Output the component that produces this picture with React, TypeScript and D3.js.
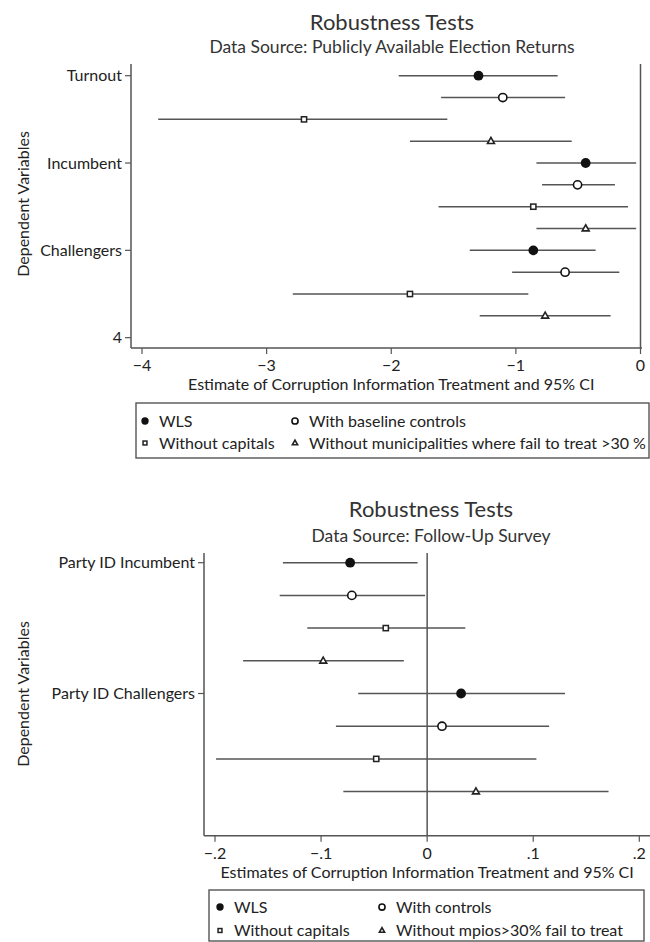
import React from 'react';
import * as d3 from 'd3';

// ---- data (estimate, CI low, CI high) ----
const topCategories = ['Turnout', 'Incumbent', 'Challengers'];
const topSeries = ['WLS', 'With baseline controls', 'Without capitals', 'Without municipalities where fail to treat >30 %'];
const topWLS = [[-1.30, -1.94, -0.665], [-0.44, -0.835, -0.035], [-0.86, -1.37, -0.36]];
const topBaseline = [[-1.105, -1.60, -0.605], [-0.505, -0.79, -0.205], [-0.605, -1.03, -0.17]];
const topCapitals = [[-2.70, -3.87, -1.55], [-0.86, -1.62, -0.10], [-1.85, -2.79, -0.90]];
const topNoFail = [[-1.20, -1.85, -0.552], [-0.44, -0.835, -0.035], [-0.765, -1.29, -0.24]];
const topXTicks = [-4, -3, -2, -1, 0];
const topExtraTick = '4';

const botCategories = ['Party ID Incumbent', 'Party ID Challengers'];
const botSeries = ['WLS', 'With controls', 'Without capitals', 'Without mpios>30% fail to treat'];
const botWLS = [[-0.0726, -0.136, -0.009], [0.032, -0.065, 0.130]];
const botControls = [[-0.071, -0.139, -0.002], [0.014, -0.086, 0.115]];
const botCapitals = [[-0.039, -0.113, 0.036], [-0.048, -0.199, 0.103]];
const botNoFail = [[-0.098, -0.1735, -0.022], [0.046, -0.079, 0.171]];
const botXTicks = [-0.2, -0.1, 0, 0.1, 0.2];

const FONT = 'Lato, "Noto Sans", sans-serif';
const TXT = '#222';
const LINE = '#555';
const AXIS = '#555';

function Marker({ kind, x, y, small = false }: { kind: number; x: number; y: number; small?: boolean }) {
  const k = small ? 0.75 : 1;
  if (kind === 0) return <circle cx={x} cy={y} r={4.9 * k} fill="#111" />;
  if (kind === 1) return <circle cx={x} cy={y} r={4.1 * k} fill="#fff" stroke="#111" strokeWidth={1.6} />;
  if (kind === 2) {
    const s = 5.2 * k;
    return <rect x={x - s / 2} y={y - s / 2} width={s} height={s} fill="#fff" stroke="#222" strokeWidth={1.5} />;
  }
  const h = 5.8 * k;
  const pts = [[x, y - h * 0.65], [x + h * 0.6, y + h * 0.4], [x - h * 0.6, y + h * 0.4]];
  return <polygon points={pts.map(p => p.join(',')).join(' ')} fill="#fff" stroke="#222" strokeWidth={1.6} />;
}

function fmtBot(v: number) {
  if (v === 0) return '0';
  const s = d3.format('.1f')(Math.abs(v)).replace(/^0/, '');
  return (v < 0 ? '\u2212' : '') + s;
}

function Panel(props: {
  title: string; subtitle: string; titleX: number; titleY: number; subY: number;
  categories: string[]; series: number[][][]; extraTick?: string;
  xDomain: [number, number]; xRange: [number, number]; xTicks: number[]; fmt: (v: number) => string;
  axisLeft: number; axisRight: number; plotTop: number; plotBottom: number;
  rowY0: number; rowStep: number; xTitle: string; yTitleY: number;
  legendNames: string[]; legendBox: [number, number, number, number]; legendRows: [number, number];
  legendCols: [number, number];
}) {
  const x = d3.scaleLinear().domain(props.xDomain).range(props.xRange);
  const nRows = props.categories.length * 4 + (props.extraTick ? 1 : 0);
  const y = d3.scaleLinear().domain([0, 1]).range([props.rowY0, props.rowY0 + props.rowStep]);
  const yTicks = props.categories.map((c, i) => ({ pos: i * 4, label: c }));
  if (props.extraTick) yTicks.push({ pos: nRows - 1, label: props.extraTick });
  const [bl, bt, br, bb] = props.legendBox;
  return (
    <g fontFamily={FONT} fill={TXT}>
      <text x={props.titleX} y={props.titleY} textAnchor="middle" fontSize={22} fill="#333">{props.title}</text>
      <text x={props.titleX} y={props.subY} textAnchor="middle" fontSize={17.5} fill="#333">{props.subtitle}</text>
      <text transform={`translate(29,${props.yTitleY}) rotate(-90)`} textAnchor="middle" fontSize={16}>Dependent Variables</text>

      {/* axes */}
      <line x1={props.axisLeft} x2={props.axisLeft} y1={props.plotTop} y2={props.plotBottom} stroke={AXIS} strokeWidth={1.5} />
      <line x1={props.axisLeft} x2={props.axisRight} y1={props.plotBottom} y2={props.plotBottom} stroke={AXIS} strokeWidth={1.5} />
      <line x1={x(0)} x2={x(0)} y1={props.plotTop} y2={props.plotBottom} stroke={AXIS} strokeWidth={1.5} />

      {yTicks.map(t => (
        <g key={t.label}>
          <line x1={props.axisLeft - 6} x2={props.axisLeft} y1={y(t.pos)} y2={y(t.pos)} stroke={AXIS} strokeWidth={1.2} />
          <text x={props.axisLeft - 9} y={y(t.pos) + 5.5} textAnchor="end" fontSize={16}>{t.label}</text>
        </g>
      ))}
      {props.xTicks.map(t => (
        <g key={t}>
          <line x1={x(t)} x2={x(t)} y1={props.plotBottom} y2={props.plotBottom + 6} stroke={AXIS} strokeWidth={1.2} />
          <text x={x(t)} y={props.plotBottom + 23} textAnchor="middle" fontSize={16}>{props.fmt(t)}</text>
        </g>
      ))}
      <text x={(props.xRange[0] + props.xRange[1]) / 2} y={props.plotBottom + 42} textAnchor="middle" fontSize={16}>{props.xTitle}</text>

      {/* estimates with CIs */}
      {props.series.map((s, si) => s.map((d, ci) => {
        const row = ci * 4 + si;
        return (
          <g key={`${si}-${ci}`}>
            <line x1={x(d[1])} x2={x(d[2])} y1={y(row)} y2={y(row)} stroke={LINE} strokeWidth={1.5} />
            <Marker kind={si} x={x(d[0])} y={y(row)} />
          </g>
        );
      }))}

      {/* legend */}
      <rect x={bl} y={bt} width={br - bl} height={bb - bt} fill="#fff" stroke="#555" strokeWidth={1.4} />
      {props.legendNames.map((n, i) => {
        const cx = props.legendCols[i % 2];
        const cy = props.legendRows[Math.floor(i / 2)];
        return (
          <g key={n}>
            <Marker kind={i} x={cx} y={cy} small />
            <text x={cx + 14} y={cy + 5.5} fontSize={16}>{n}</text>
          </g>
        );
      })}
    </g>
  );
}

export default function App() {
  return (
    <div style={{ position: 'absolute', left: 0, top: 0, background: '#fff' }}>
      <svg width={650} height={942} viewBox="0 0 650 942" style={{ display: 'block' }}>
        <rect width={650} height={942} fill="#fff" />
        <Panel
          title="Robustness Tests" subtitle="Data Source: Publicly Available Election Returns"
          titleX={392} titleY={30} subY={53}
          categories={topCategories} series={[topWLS, topBaseline, topCapitals, topNoFail]} extraTick={topExtraTick}
          xDomain={[-4, 0]} xRange={[142, 640.5]} xTicks={topXTicks} fmt={v => (v < 0 ? '\u2212' + Math.abs(v) : String(v))}
          axisLeft={131} axisRight={642} plotTop={64} plotBottom={348}
          rowY0={75.7} rowStep={21.83} xTitle="Estimate of Corruption Information Treatment and 95% CI" yTitleY={204}
          legendNames={topSeries} legendBox={[136, 403, 649, 458]} legendRows={[421, 443]} legendCols={[145, 295]}
        />
        <Panel
          title="Robustness Tests" subtitle="Data Source: Follow-Up Survey"
          titleX={431} titleY={517} subY={542}
          categories={botCategories} series={[botWLS, botControls, botCapitals, botNoFail]}
          xDomain={[-0.2, 0.2]} xRange={[215, 639.3]} xTicks={botXTicks} fmt={fmtBot}
          axisLeft={204} axisRight={650} plotTop={553} plotBottom={835.7}
          rowY0={562.7} rowStep={32.7} xTitle="Estimates of Corruption Information Treatment and 95% CI" yTitleY={694}
          legendNames={botSeries} legendBox={[209, 890, 644, 941]} legendRows={[907, 930.5]} legendCols={[220, 382]}
        />
      </svg>
    </div>
  );
}
